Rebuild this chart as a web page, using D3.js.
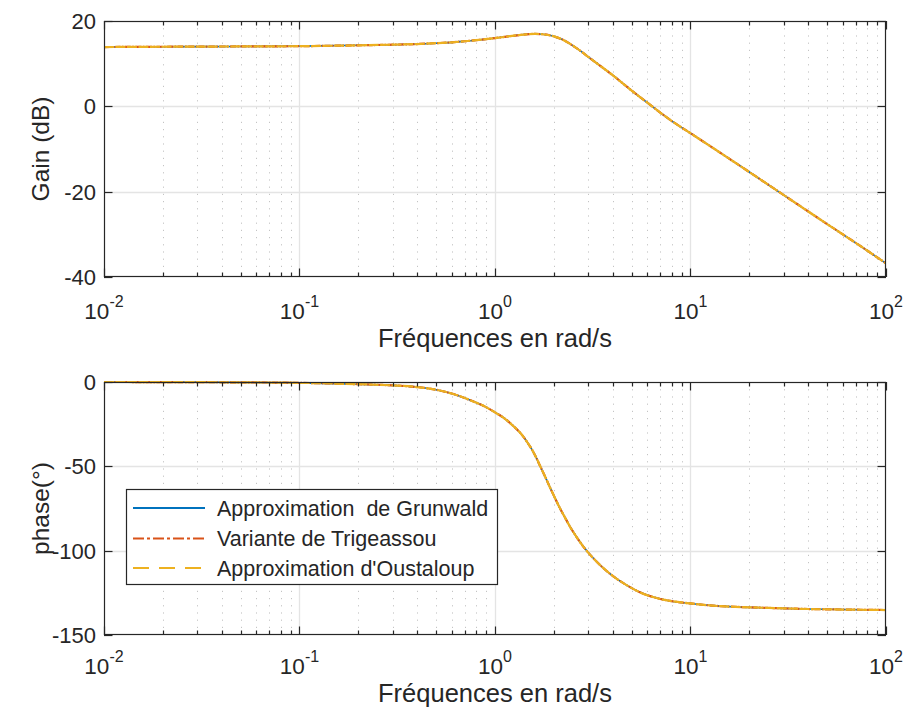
<!DOCTYPE html>
<html>
<head>
<meta charset="utf-8">
<script src="https://cdn.jsdelivr.net/npm/d3@7"></script>
<style>
  html, body { margin: 0; padding: 0; background: #fff; }
  svg { display: block; }
  text { font-family: "Liberation Sans", Arial, Helvetica, sans-serif; fill: #262626; }
</style>
</head>
<body>
<svg id="chart" width="907" height="707"></svg>
<script>
// ---------------- data ----------------
const gainFreq = [0.01, 0.03, 0.1, 0.2, 0.3, 0.4, 0.5, 0.6, 0.7, 0.8, 0.9, 1.0,
  1.15, 1.3, 1.45, 1.6, 1.75, 1.9, 2.0, 2.2, 2.4, 2.6, 2.8, 3.0, 3.5, 4, 5, 6, 8,
  10, 15, 20, 30, 50, 70, 100];
const gainDb = [13.9, 14.0, 14.1, 14.3, 14.45, 14.6, 14.8, 15.0, 15.25, 15.5, 15.75, 16.0,
  16.35, 16.65, 16.88, 16.98, 16.9, 16.65, 16.4, 15.7, 14.75, 13.7, 12.65, 11.6, 9.3, 7.3, 3.7, 0.9, -3.4,
  -6.3, -11.6, -15.4, -20.8, -27.6, -32.0, -36.8];

const phaseFreq = [0.01, 0.03, 0.1, 0.2, 0.3, 0.4, 0.5, 0.6, 0.7, 0.8, 0.9, 1.0,
  1.125, 1.236, 1.359, 1.51, 1.602, 1.699, 1.803, 1.911, 2.027, 2.15, 2.281, 2.419, 2.566, 2.722,
  2.99, 3.444, 4.014, 4.734, 5.517, 6.43, 7.855, 10, 13, 17, 20, 30, 40, 60, 100];
const phaseDeg = [0, -0.1, -0.5, -1.3, -2.0, -3.0, -4.6, -6.8, -9.5, -12.2, -14.9, -18,
  -21.8, -25.9, -30.7, -38.2, -43.4, -49.7, -56.0, -62.5, -68.8, -74.9, -80.4, -85.8, -90.5, -94.9,
  -101.0, -108.5, -115.1, -120.6, -124.7, -127.5, -129.8, -131.3, -132.6, -133.3, -133.6, -134.2, -134.6, -134.9, -135.2];

const seriesNames = ["Approximation  de Grunwald", "Variante de Trigeassou", "Approximation d'Oustaloup"];
const seriesColors = ["#0072BD", "#D95319", "#EDB120"];
const legendDash = [null, "11,3,3,3", "16,10"];

const xDomain = [0.01, 100];
const xTickExps = [-2, -1, 0, 1, 2];
const gainDomain = [-40, 20];
const gainTicks = [-40, -20, 0, 20];
const phaseDomain = [-150, 0];
const phaseTicks = [-150, -100, -50, 0];
const xLabel = "Fréquences en rad/s";
const gainLabel = "Gain (dB)";
const phaseLabel = "phase(°)";

// ---------------- layout ----------------
const svg = d3.select("#chart");
const L = 104, R = 886;
const panels = [
  { top: 21, bottom: 277, domain: gainDomain, ticks: gainTicks, f: gainFreq, values: gainDb,
    ylabel: gainLabel, id: "g", tickY: 319, xlabY: 347 },
  { top: 382, bottom: 635, domain: phaseDomain, ticks: phaseTicks, f: phaseFreq, values: phaseDeg,
    ylabel: phaseLabel, id: "p", tickY: 673.5, xlabY: 701.5 }
];
const axisColor = "#262626";

const x = d3.scaleLog().domain(xDomain).range([L, R]);
const minorTicks = [];
for (let e = -2; e < 2; e++) for (let m = 2; m <= 9; m++) minorTicks.push(m * Math.pow(10, e));
const majorTicks = xTickExps.map(e => Math.pow(10, e));

// on-curve rendering (three overlapping approximations: solid, dash-dot, dashed)
const curveWidth = [1.6, 2.2, 2.2];
const curveDash = [null, "6,1.5,1.5,1.5", "10,1.5"];

panels.forEach(p => {
  const y = d3.scaleLinear().domain(p.domain).range([p.bottom, p.top]);
  const g = svg.append("g");

  svg.append("clipPath").attr("id", "clip-" + p.id)
    .append("rect").attr("x", L).attr("y", p.top - 1).attr("width", R - L).attr("height", p.bottom - p.top + 2);

  // minor grid (dotted)
  g.append("g").selectAll("line").data(minorTicks).join("line")
    .attr("x1", d => Math.round(x(d)) + 0.5).attr("x2", d => Math.round(x(d)) + 0.5)
    .attr("y1", p.top).attr("y2", p.bottom)
    .attr("stroke", "#c4c4c4").attr("stroke-width", 1).attr("stroke-dasharray", "1.2,6");
  // major grid
  g.append("g").selectAll("line").data(majorTicks.slice(1, -1)).join("line")
    .attr("x1", d => Math.round(x(d)) + 0.5).attr("x2", d => Math.round(x(d)) + 0.5)
    .attr("y1", p.top).attr("y2", p.bottom)
    .attr("stroke", "#e4e4e4").attr("stroke-width", 1.3);
  g.append("g").selectAll("line").data(p.ticks.slice(1, -1)).join("line")
    .attr("x1", L).attr("x2", R)
    .attr("y1", d => Math.round(y(d)) + 0.5).attr("y2", d => Math.round(y(d)) + 0.5)
    .attr("stroke", "#e4e4e4").attr("stroke-width", 1.3);

  // curves
  const pts = p.values.map((v, i) => [p.f[i], v]);
  const line = d3.line().x(d => x(d[0])).y(d => y(d[1])).curve(d3.curveCatmullRom.alpha(0.5));
  seriesNames.forEach((name, k) => {
    g.append("path").datum(pts)
      .attr("clip-path", "url(#clip-" + p.id + ")")
      .attr("d", line)
      .attr("fill", "none")
      .attr("stroke", seriesColors[k])
      .attr("stroke-width", curveWidth[k])
      .attr("stroke-dasharray", curveDash[k]);
  });

  // box
  g.append("rect").attr("x", L + 0.5).attr("y", p.top + 0.5)
    .attr("width", R - L - 1).attr("height", p.bottom - p.top - 1)
    .attr("fill", "none").attr("stroke", axisColor).attr("stroke-width", 1.2);

  // ticks (inward, mirrored)
  const tk = g.append("g").attr("stroke", axisColor).attr("stroke-width", 1.2);
  majorTicks.forEach(t => {
    const xx = Math.round(x(t)) + 0.5;
    tk.append("line").attr("x1", xx).attr("x2", xx).attr("y1", p.bottom).attr("y2", p.bottom - 8.5);
    tk.append("line").attr("x1", xx).attr("x2", xx).attr("y1", p.top).attr("y2", p.top + 8.5);
  });
  minorTicks.forEach(t => {
    const xx = Math.round(x(t)) + 0.5;
    tk.append("line").attr("x1", xx).attr("x2", xx).attr("y1", p.bottom).attr("y2", p.bottom - 4.5);
    tk.append("line").attr("x1", xx).attr("x2", xx).attr("y1", p.top).attr("y2", p.top + 4.5);
  });
  p.ticks.forEach(t => {
    const yy = Math.round(y(t)) + 0.5;
    tk.append("line").attr("x1", L).attr("x2", L + 8.5).attr("y1", yy).attr("y2", yy);
    tk.append("line").attr("x1", R).attr("x2", R - 8.5).attr("y1", yy).attr("y2", yy);
  });

  // y tick labels
  g.append("g").selectAll("text").data(p.ticks).join("text")
    .attr("x", L - 8).attr("y", d => y(d))
    .attr("dy", "0.36em")
    .attr("text-anchor", "end")
    .attr("font-size", 22)
    .text(d => d);

  // x tick labels 10^n
  const xl = g.append("g").selectAll("text").data(xTickExps).join("text")
    .attr("x", d => x(Math.pow(10, d)))
    .attr("y", p.tickY)
    .attr("text-anchor", "middle")
    .attr("font-size", 22.5);
  xl.append("tspan").text("10");
  xl.append("tspan").attr("dy", -12).attr("font-size", 16).text(d => d);

  // axis labels
  g.append("text").attr("x", (L + R) / 2).attr("y", p.xlabY)
    .attr("text-anchor", "middle").attr("font-size", 25.5).text(xLabel);
  g.append("text")
    .attr("transform", `translate(49,${(p.top + p.bottom) / 2}) rotate(-90)`)
    .attr("text-anchor", "middle").attr("font-size", 24.5).text(p.ylabel);
});

// ---------------- legend ----------------
const lg = svg.append("g");
const lx = 126, ly = 489, lw = 371, lh = 95;
lg.append("rect").attr("x", lx + 0.5).attr("y", ly + 0.5).attr("width", lw).attr("height", lh)
  .attr("fill", "#fff").attr("stroke", axisColor).attr("stroke-width", 1.2);
const rowY = [508, 538.5, 568];
seriesNames.forEach((name, k) => {
  lg.append("line").attr("x1", 133).attr("x2", 205).attr("y1", rowY[k]).attr("y2", rowY[k])
    .attr("stroke", seriesColors[k]).attr("stroke-width", 2).attr("stroke-dasharray", legendDash[k]);
  lg.append("text").attr("x", 217).attr("y", rowY[k]).attr("dy", "0.36em")
    .attr("font-size", 21.5).style("white-space", "pre").text(name);
});
</script>
</body>
</html>
